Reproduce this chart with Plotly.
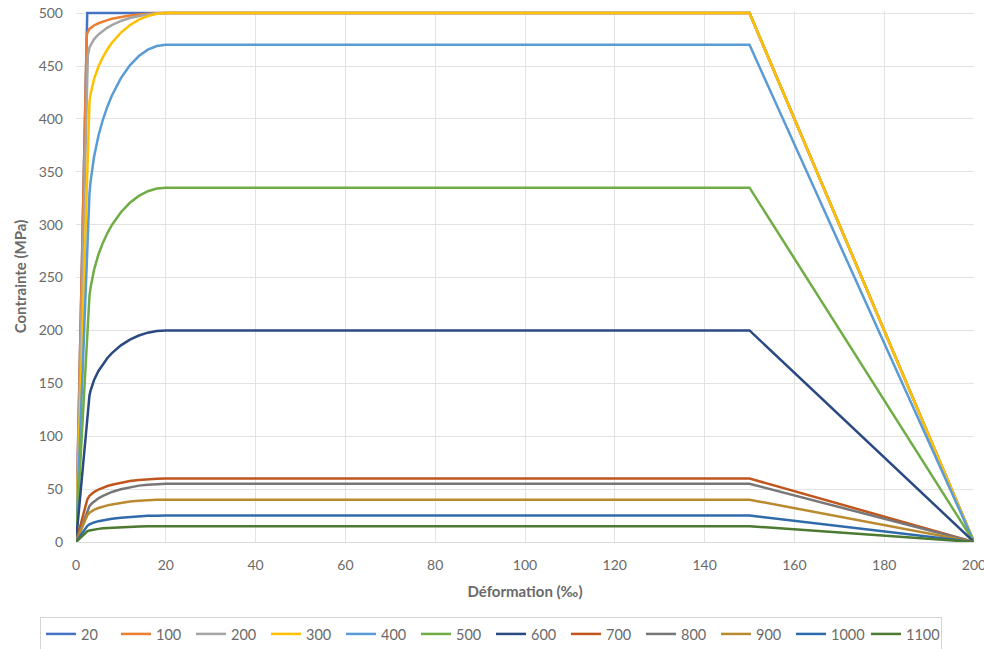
import plotly.graph_objects as go

# Température (°C) de chaque courbe contrainte-déformation
temperatures = ["20", "100", "200", "300", "400", "500", "600", "700", "800", "900", "1000", "1100"]

# Déformation (‰) des points de chaque courbe
strain_20 = [0, 2.5, 150, 200]
strain_100 = [0, 2.4, 3, 3.5, 4, 5, 6, 7, 8, 10, 12, 14, 16, 18, 20, 150, 200]
strain_200 = [0, 2.64, 3, 3.5, 4, 5, 6, 7, 8, 10, 12, 14, 16, 18, 20, 150, 200]
strain_300 = [0, 2.81, 3, 3.25, 3.5, 4, 5, 6, 7, 8, 10, 12, 14, 16, 18, 20, 150, 200]
strain_400 = [0, 2.81, 3, 3.25, 3.5, 4, 5, 6, 7, 8, 10, 12, 14, 16, 18, 20, 150, 200]
strain_500 = [0, 2.75, 3, 3.25, 3.5, 4, 5, 6, 7, 8, 10, 12, 14, 16, 18, 20, 150, 200]
strain_600 = [0, 2.71, 3, 3.25, 3.5, 4, 5, 6, 7, 8, 10, 12, 14, 16, 18, 20, 150, 200]
strain_hot = [0, 2.5, 3, 3.5, 4, 5, 6, 7, 8, 10, 12, 14, 16, 18, 20, 150, 200]

# Contrainte (MPa) correspondante
stress_20 = [0, 500, 500, 0]
stress_100 = [0, 480, 485.1, 486.9, 488.3, 490.4, 492.1, 493.4, 494.6, 496.4, 497.8, 498.8, 499.5, 499.9, 500, 500, 0]
stress_200 = [0, 460, 467.6, 472.0, 475.2, 479.9, 483.4, 486.3, 488.7, 492.6, 495.4, 497.5, 498.9, 499.7, 500, 500, 0]
stress_300 = [0, 405, 416.1, 423.6, 429.0, 437.4, 449.5, 458.5, 465.8, 472.0, 481.6, 488.6, 493.8, 497.3, 499.3, 500, 500, 0]
stress_400 = [0, 315, 329.2, 340.9, 349.8, 363.7, 384.1, 399.4, 411.8, 422.2, 438.6, 450.6, 459.4, 465.4, 468.9, 470, 470, 0]
stress_500 = [0, 220, 232.8, 240.7, 247.0, 257.0, 271.8, 283.0, 292.1, 299.7, 311.8, 320.7, 327.2, 331.6, 334.2, 335, 335, 0]
stress_600 = [0, 130, 138.6, 143.2, 146.9, 152.9, 161.7, 168.5, 174.0, 178.6, 185.9, 191.3, 195.2, 197.9, 199.5, 200, 200, 0]
stress_700 = [0, 40, 43.7, 45.7, 47.2, 49.6, 51.4, 52.9, 54.1, 56.1, 57.6, 58.7, 59.4, 59.9, 60, 60, 0]
stress_800 = [0, 30, 33.9, 36.4, 38.3, 41.4, 43.7, 45.7, 47.3, 49.9, 51.9, 53.3, 54.2, 54.8, 55, 55, 0]
stress_900 = [0, 25, 27.7, 29.2, 30.3, 32.1, 33.5, 34.6, 35.5, 37.1, 38.2, 39.0, 39.6, 39.9, 40, 40, 0]
stress_1000 = [0, 15, 16.7, 17.7, 18.5, 19.7, 20.6, 21.4, 22.0, 23.0, 23.8, 24.3, 24.7, 24.9, 25, 25, 0]
stress_1100 = [0, 10, 10.9, 11.4, 11.8, 12.4, 12.9, 13.2, 13.5, 14.0, 14.4, 14.7, 14.9, 15.0, 15, 15, 0]

strains = [strain_20, strain_100, strain_200, strain_300, strain_400, strain_500,
           strain_600, strain_hot, strain_hot, strain_hot, strain_hot, strain_hot]
stresses = [stress_20, stress_100, stress_200, stress_300, stress_400, stress_500,
            stress_600, stress_700, stress_800, stress_900, stress_1000, stress_1100]

colors = ["#4472C4", "#ED7D31", "#A5A5A5", "#FFC000", "#5B9BD5", "#70AD47",
          "#2B4A82", "#C0561E", "#777777", "#B98A30", "#2F6BAA", "#4B7A30"]

x_ticks = [0, 20, 40, 60, 80, 100, 120, 140, 160, 180, 200]
y_ticks = [0, 50, 100, 150, 200, 250, 300, 350, 400, 450, 500]

FONT = "Lato"
TEXT_GREY = "#6a6a6a"

fig = go.Figure()
for name, xs, ys, col in zip(temperatures, strains, stresses, colors):
    fig.add_trace(go.Scatter(
        x=xs, y=ys, name=name, mode="lines",
        line=dict(color=col, width=2.5),
    ))

fig.update_layout(
    width=984, height=649,
    margin=dict(l=76, r=10, t=11, b=107),
    paper_bgcolor="white", plot_bgcolor="white",
    font=dict(family=FONT, size=14, color=TEXT_GREY),
    showlegend=True,
    legend=dict(
        orientation="h",
        xref="container", x=40 / 984, xanchor="left",
        yref="container", y=(649 - 617) / 649, yanchor="top",
        bordercolor="#d4d4d4", borderwidth=1,
        entrywidth=30, entrywidthmode="pixels", itemwidth=30,
        font=dict(family=FONT, size=14.5, color=TEXT_GREY),
        traceorder="normal",
    ),
    xaxis=dict(
        range=[0, 200], tickvals=x_ticks, ticks="",
        showgrid=True, gridcolor="#e3e3e3", gridwidth=1,
        zeroline=False, showline=True, linecolor="#d9d9d9", linewidth=1,
        ticklabelstandoff=10, ticklabeloverflow="allow", automargin=False,
        tickfont=dict(family=FONT, size=14, color=TEXT_GREY),
        title=dict(text="<b>Déformation (‰)</b>", standoff=14,
                   font=dict(family=FONT, size=15, color=TEXT_GREY)),
    ),
    yaxis=dict(
        range=[0, 502], tickvals=y_ticks, ticks="",
        showgrid=True, gridcolor="#e3e3e3", gridwidth=1,
        zeroline=False, showline=False, automargin=False,
        ticklabelstandoff=12,
        tickfont=dict(family=FONT, size=14, color=TEXT_GREY),
        title=dict(text="<b>Contrainte (MPa)</b>", standoff=8,
                   font=dict(family=FONT, size=15, color=TEXT_GREY)),
    ),
)

fig.write_html("out.html")
